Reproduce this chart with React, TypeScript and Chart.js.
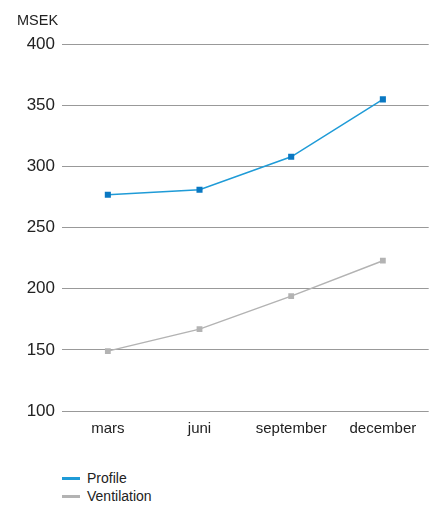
import React, { useEffect, useRef } from "react";
import { Chart, registerables } from "chart.js";

Chart.register(...registerables);

const categories = ["mars", "juni", "september", "december"];
const profileValues = [277, 281, 308, 355];
const ventilationValues = [149, 167, 194, 223];
const yTicks = [100, 150, 200, 250, 300, 350, 400];
const unitLabel = "MSEK";
const seriesNames = ["Profile", "Ventilation"];
const seriesColors = ["#1f9bd7", "#b3b3b3"];
const markerColors = ["#0a78c2", "#b3b3b3"];

const FONT = "'Liberation Sans', Arial, Helvetica, sans-serif";

export default function App() {
  const ref = useRef<HTMLCanvasElement | null>(null);

  useEffect(() => {
    document.body.style.margin = "0";
    if (!ref.current) return;
    const chart = new Chart(ref.current, {
      type: "line",
      data: {
        labels: categories,
        datasets: [
          {
            label: seriesNames[0],
            data: profileValues,
            borderColor: seriesColors[0],
            backgroundColor: markerColors[0],
            pointBackgroundColor: markerColors[0],
            pointBorderColor: markerColors[0],
            borderWidth: 1.5,
            pointStyle: "rect",
            pointRadius: 4.3,
            pointBorderWidth: 0,
            tension: 0,
          },
          {
            label: seriesNames[1],
            data: ventilationValues,
            borderColor: seriesColors[1],
            backgroundColor: markerColors[1],
            pointBackgroundColor: markerColors[1],
            pointBorderColor: markerColors[1],
            borderWidth: 1.5,
            pointStyle: "rect",
            pointRadius: 4.1,
            pointBorderWidth: 0,
            tension: 0,
          },
        ],
      },
      options: {
        animation: false,
        responsive: false,
        maintainAspectRatio: false,
        layout: { padding: { left: 17, right: 3, top: 12, bottom: 2 } },
        plugins: {
          legend: { display: false },
          tooltip: { enabled: false },
          title: {
            display: true,
            text: unitLabel,
            align: "start",
            color: "#222",
            font: { family: FONT, size: 14.5, weight: "normal" },
            padding: { top: 0, bottom: 15 },
          },
        },
        scales: {
          x: {
            offset: true,
            grid: { display: false, drawTicks: false },
            border: { display: false },
            ticks: {
              color: "#222",
              font: { family: FONT, size: 15 },
              padding: 9,
              maxRotation: 0,
              autoSkip: false,
            },
          },
          y: {
            min: 100,
            max: 400,
            afterFit: (scale: any) => {
              scale.width = 45;
            },
            afterBuildTicks: (scale: any) => {
              scale.ticks = yTicks.map((v) => ({ value: v }));
            },
            grid: { color: "#999", lineWidth: 1, drawTicks: false },
            border: { display: false },
            ticks: {
              color: "#222",
              font: { family: FONT, size: 17 },
              padding: 7,
            },
          },
        },
      },
    });
    return () => chart.destroy();
  }, []);

  return (
    <div style={{ position: "relative", width: 433, height: 505, fontFamily: FONT }}>
      <canvas ref={ref} width={433} height={449} style={{ display: "block" }} />
      <div style={{ position: "absolute", left: 62, top: 469, fontSize: 14, color: "#222", lineHeight: "18px" }}>
        {seriesNames.map((n, i) => (
          <div key={n} style={{ display: "flex", alignItems: "center" }}>
            <span style={{ display: "inline-block", width: 18, height: 3, background: seriesColors[i], marginRight: 7 }} />
            <span>{n}</span>
          </div>
        ))}
      </div>
    </div>
  );
}
